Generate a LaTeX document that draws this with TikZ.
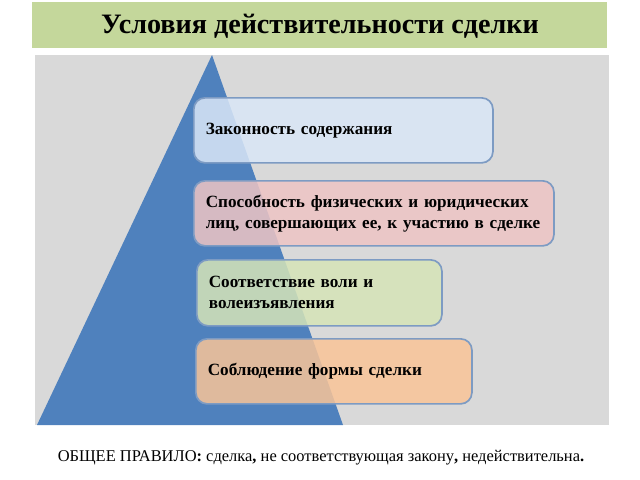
\documentclass[tikz,border=0pt]{standalone}
\usepackage{fontspec}
\setmainfont{Liberation Serif}
\usetikzlibrary{positioning}

\definecolor{titlegreen}{RGB}{196,215,155}
\definecolor{panelgray}{RGB}{217,217,217}
\definecolor{pyrblue}{RGB}{79,129,189}
\definecolor{boxline}{RGB}{125,155,195}
\definecolor{fillblue}{RGB}{218,231,247}
\definecolor{fillpink}{RGB}{238,196,196}
\definecolor{fillgreen}{RGB}{214,228,184}
\definecolor{fillorange}{RGB}{249,196,152}

\begin{document}
\begin{tikzpicture}[
	x=0.025cm, y=-0.025cm,
	cond/.style={
		draw=boxline,
		line width=1.2pt,
		rounded corners=8pt,
		fill opacity=0.85,
		text opacity=1,
		anchor=north west,
		minimum height=1.625cm,
		inner xsep=0.3cm,
		align=left,
		font=\fontsize{12.2}{15}\selectfont\bfseries
	}
	]
	
	\useasboundingbox (0,0) rectangle (640,480);
	
	% title
	\fill[titlegreen] (32,2) rectangle (607,48);
	\node[font=\fontsize{20}{24}\selectfont\bfseries] 
	(title) at (320,26) {Условия действительности сделки};
	
	% panel and pyramid
	\fill[panelgray] (35,55) rectangle (609,425);
	\fill[pyrblue] (212,55) -- (343,425) -- (37,425) -- cycle;
	
	\node[cond, fill=fillblue, text width=6.875cm] at (193,97)
	(c1) {Законность содержания};
	
	\node[cond, fill=fillpink, text width=8.4cm] at (193,180)
	(c2) {Способность физических и юридических\\лиц, совершающих ее, к участию в сделке};
	
	\node[cond, fill=fillgreen, text width=5.525cm, minimum height=1.65cm] at (196,259)
	(c3) {Соответствие воли и\\волеизъявления};
	
	\node[cond, fill=fillorange, text width=6.3cm] at (195,338)
	(c4) {Соблюдение формы сделки};
	
	% footer
	\node[font=\fontsize{11.7}{14}\selectfont] (rule) at (321,458)
	{ОБЩЕЕ ПРАВИЛО\textbf{:} сделка\textbf{,} не соответствующая закону\textbf{,} недействительна\textbf{.}};
	
\end{tikzpicture}
\end{document}
